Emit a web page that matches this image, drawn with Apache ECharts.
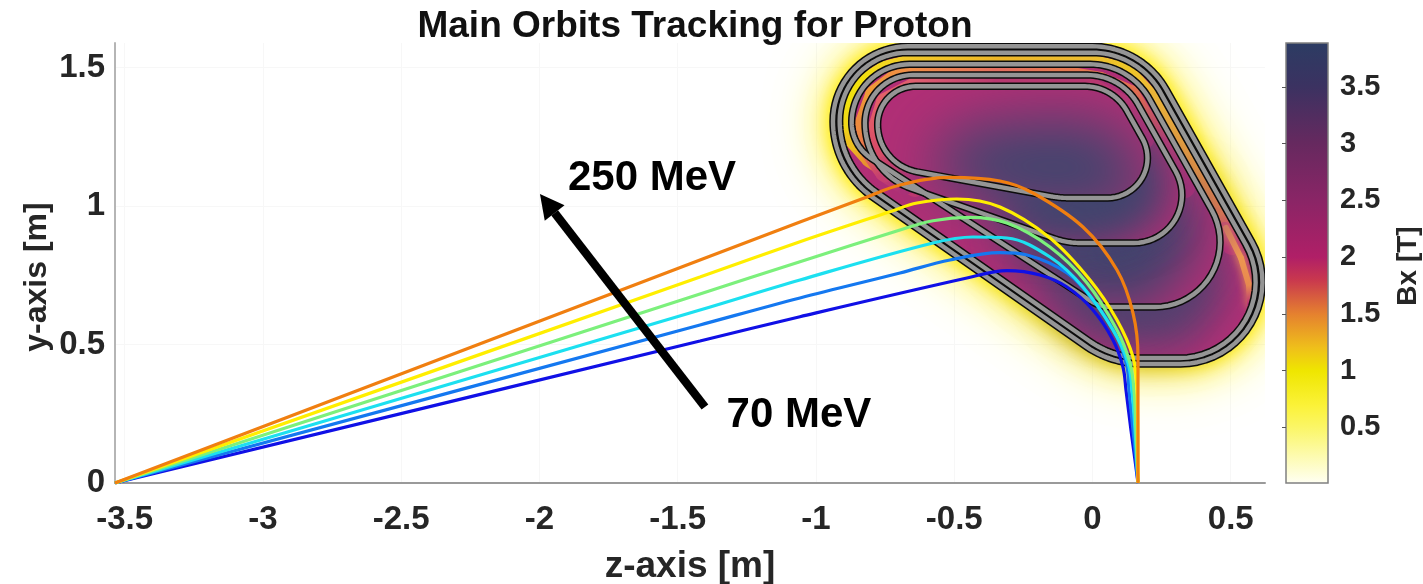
<!DOCTYPE html>
<html><head><meta charset="utf-8">
<style>html,body{margin:0;padding:0;background:#fff}#c{width:1423px;height:584px}</style>
<script src="https://cdn.jsdelivr.net/npm/echarts@6/dist/echarts.min.js"></script>
</head><body><div id="c"></div>
<script>
// ---------- axis / tick data ----------
const zTicks = [-3.5,-3,-2.5,-2,-1.5,-1,-0.5,0,0.5];
const yTicks = [0,0.5,1,1.5];
const barTicks = [0.5,1,1.5,2,2.5,3,3.5];
const zRange = [-3.535,0.6239], yRange = [0,1.5884], barRange = [0.01,3.886];

// ---------- orbits [z,y] ----------
const orbit70 = [[-3.535,0],[-1.4195,0.5126],[-1.0579,0.6004],[-0.4539,0.7401],[-0.3092,0.7664],[-0.1899,0.7509],[-0.0922,0.7076],[0.0018,0.6245],[0.0741,0.5162],[0.1103,0.4188],[0.1212,0.3357],[0.1392,0.1913],[0.1537,0.0830],[0.1646,0]];
const orbit100 = [[-3.535,0],[-1.4195,0.5704],[-1.0579,0.6679],[-0.6962,0.7581],[-0.5154,0.8051],[-0.3345,0.8314],[-0.2369,0.8231],[-0.0922,0.7581],[0.0018,0.6606],[0.0886,0.5271],[0.1248,0.4188],[0.1320,0.3357],[0.1465,0.1913],[0.1573,0.0830],[0.1646,0]];
const orbit130 = [[-3.535,0],[-1.4195,0.6245],[-1.0579,0.7329],[-0.5769,0.8664],[-0.4322,0.8881],[-0.3092,0.8845],[-0.1537,0.8159],[-0.0344,0.7076],[0.0741,0.5523],[0.1284,0.4332],[0.1429,0.3357],[0.1537,0.1913],[0.1646,0]];
const orbit170 = [[-3.535,0],[-1.4195,0.6823],[-1.0579,0.7989],[-0.6962,0.9134],[-0.5769,0.9469],[-0.4430,0.9592],[-0.3092,0.9386],[-0.1537,0.8520],[-0.0199,0.7220],[0.0886,0.5523],[0.1356,0.4332],[0.1501,0.3357],[0.1573,0.1913],[0.1646,0]];
const orbit210 = [[-3.535,0],[-1.4195,0.7437],[-1.0579,0.8711],[-0.7324,0.9794],[-0.6347,1.0108],[-0.4900,1.0253],[-0.3345,0.9964],[-0.1537,0.8845],[-0.0090,0.7329],[0.0886,0.5885],[0.1465,0.4549],[0.1609,0.3357],[0.1646,0]];
const orbit250 = [[-3.535,0],[-1.4195,0.8051],[-1.0579,0.9422],[-0.8155,1.0325],[-0.6962,1.0758],[-0.5154,1.1036],[-0.3345,1.0903],[-0.2152,1.0469],[-0.0344,0.9242],[0.0886,0.7690],[0.1465,0.6137],[0.1646,0.4549],[0.1646,0.3357],[0.1646,0]];
const orbits = [orbit70,orbit100,orbit130,orbit170,orbit210,orbit250];
const orbitColors = ['#1010e6','#1478f0','#1ce0f0','#7cf07c','#ffee00','#f07f10'];

// ---------- coils: corner vertices [z,y] ----------
const coilA = [[-0.9385,1.5765],[0.1790,1.5765],[0.8250,0.4296],[0.0669,0.4296],[-0.9385,1.1318]];
const coilB = [[-0.9143,1.5534],[0.1646,1.5534],[0.7848,0.4513],[0.0763,0.4513],[-0.9143,1.1430]];
const coilC = [[-0.8709,1.5115],[0.1356,1.5115],[0.6275,0.6354],[0.0271,0.6354],[-0.8709,1.2180]];
const coilD = [[-0.8228,1.4729],[0.1049,1.4729],[0.4467,0.8664],[-0.0922,0.8664],[-0.8228,1.1217]];
const coilE = [[-0.7769,1.4321],[0.0741,1.4321],[0.3020,1.0289],[-0.1175,1.0289],[-0.7769,1.1495]];
const coils = [coilA,coilB,coilC,coilD,coilE];
const coilCorners = [[75,85,82,100,92],[68,78,76,94,86],[58,68,65,40,43],[48,58,48,80,69],[38,48,40,100,48]];

// ---------- field read along the gaps between coils ----------
const gapBC = [[-0.6420,1.0686],[-0.7324,1.1282],[-0.8011,1.1733],[-0.8589,1.2383],[-0.8698,1.3032],[-0.8589,1.3827],[-0.8119,1.4477],[-0.7504,1.4874],[-0.6600,1.5115],[-0.3345,1.5115],[-0.0090,1.5115],[0.1175,1.4838],[0.2080,1.3863],[0.3526,1.1300],[0.4467,0.9603],[0.4792,0.9061],[0.5045,0.8592]];
const gapBCColors = ['#c83870','#dc6050','#e89030','#eec020','#f0d818','#f0e010','#f2e010','#f2d820','#f2c828','#f0b828','#f0c030','#f0c828','#f0b838','#ef9a40','#e87a50','#d04e70','#b83078'];
const gapTip = [[0.4830,0.9206],[0.5370,0.8123],[0.5660,0.7148],[0.5700,0.6426]];
const gapTipColors = ['#e08060','#f09850','#e88a50','#b83078'];
const gapCD = [[-0.6781,1.0758],[-0.7504,1.1228],[-0.8047,1.2022],[-0.8228,1.2996],[-0.7866,1.4007],[-0.7143,1.4549],[-0.6420,1.4729],[-0.3345,1.4729],[-0.1175,1.4729],[0.0271,1.4477],[0.1356,1.4007],[0.2513,1.2130],[0.3345,1.0650]];
const gapCDColors = ['#b03078','#c84070','#e87050','#ec8a3c','#ef9a38','#ef9040','#ef8d48','#e87060','#ec7a50','#e87850','#e87050','#c83c78','#a83078'];
const gapDE = [[-0.6347,1.1228],[-0.7143,1.1480],[-0.7685,1.2094],[-0.7757,1.2924],[-0.7504,1.3754],[-0.6420,1.4321],[-0.3345,1.4321],[-0.0090,1.4321],[0.1175,1.3646],[0.1899,1.2383]];
const gapDEColors = ['#b03078','#c04070','#d84c68','#e05868','#e26068','#e06070','#c03870','#c03870','#c03878','#b03078'];

// ---------- high-field cores ----------
const coreE = [[-0.3345,1.3032],[-0.0090,1.3177],[0.1356,1.2383],[0.2080,0.9856],[-0.2260,0.9675],[-0.5154,1.0578],[-0.5877,1.1661],[-0.5154,1.2563]];
const coreDE = [[-0.3345,1.0578],[-0.1175,1.0939],[0.1356,1.2744],[0.2622,1.1300],[0.2441,0.9675],[0.0633,0.8592],[-0.1537,0.8592],[-0.2984,0.9314]];
const coreCD = [[-0.3345,0.9314],[-0.1175,0.9675],[0.1356,1.0578],[0.3707,1.0578],[0.3888,0.8412],[0.2080,0.6245],[-0.0090,0.6245],[-0.1899,0.7329]];
const coreAB = [[-0.1899,0.7690],[0.0271,0.6967],[0.4611,0.8773],[0.4792,0.6606],[0.3526,0.4982],[0.1356,0.4801],[-0.0452,0.5523]];

// ---------- colour bar ----------
const barValues = [0.01,0.25,0.5,0.7,1,1.2,1.5,1.8,2,2.5,3,3.5,3.886];
const barColors = ['#fffff4','#fdfbb0','#fbf668','#fbf238','#efe600','#efc01a','#e5812f','#c9384e','#b01f67','#8a2566','#66295f','#3b3261','#2c3c63'];

// ---------- annotations ----------
const arrowZY = [[-1.4015,0.2744],[-1.9982,1.0433]];
const noteTexts = ['250 MeV','70 MeV'];
const notePos = [[-1.5931,1.1011],[-1.0615,0.2455]];

const font = '"Liberation Sans",Arial,sans-serif', ink = '#262626';

function rounded(api, verts, radii){
  const p = verts.map(v=>api.coord(v)), out=[], n=p.length;
  for(let i=0;i<n;i++){
    const a=p[(i+n-1)%n], b=p[i], c=p[(i+1)%n];
    let u=[a[0]-b[0],a[1]-b[1]], w=[c[0]-b[0],c[1]-b[1]];
    const lu=Math.hypot(u[0],u[1]), lw=Math.hypot(w[0],w[1]);
    u=[u[0]/lu,u[1]/lu]; w=[w[0]/lw,w[1]/lw];
    const ang=Math.acos(u[0]*w[0]+u[1]*w[1]), r=radii[i], t=r/Math.tan(ang/2);
    const bis=[u[0]+w[0],u[1]+w[1]], lb=Math.hypot(bis[0],bis[1]), d=r/Math.sin(ang/2);
    const ctr=[b[0]+bis[0]/lb*d,b[1]+bis[1]/lb*d];
    const s=[b[0]+u[0]*t,b[1]+u[1]*t], e=[b[0]+w[0]*t,b[1]+w[1]*t];
    let a0=Math.atan2(s[1]-ctr[1],s[0]-ctr[0]), a1=Math.atan2(e[1]-ctr[1],e[0]-ctr[0]), da=a1-a0;
    while(da>Math.PI)da-=2*Math.PI; while(da<-Math.PI)da+=2*Math.PI;
    for(let k=0;k<=20;k++){const q=a0+da*k/20; out.push([ctr[0]+r*Math.cos(q),ctr[1]+r*Math.sin(q)]);}
  }
  return out;
}
const poly=(points,style)=>({type:'polygon',shape:{points},style});
function strip(api,pts,cols,width,blur){
  const px=pts.map(v=>api.coord(v)), out=[];
  for(let i=0;i<px.length-1;i++){
    const a=px[i],b=px[i+1];
    const g={type:'linear',global:true,x:a[0],y:a[1],x2:b[0],y2:b[1],colorStops:[{offset:0,color:cols[i]},{offset:1,color:cols[i+1]}]};
    out.push({type:'line',shape:{x1:a[0],y1:a[1],x2:b[0],y2:b[1]},
      style:{stroke:g,lineWidth:width,lineCap:'round',fill:null,shadowBlur:blur||0,shadowColor:blur?cols[i]:'transparent'}});
  }
  return out;
}
const OFF=3000; // cast only the soft shadow of a core onto the plot
function renderField(params,api){
  const ch=[], R=i=>rounded(api,coils[i],coilCorners[i]);
  const base='#b22f76';
  const core=(c,col,blur)=>poly(c.map(v=>{const p=api.coord(v);return [p[0]-OFF,p[1]];}),
    {fill:col,shadowBlur:blur,shadowColor:col,shadowOffsetX:OFF});
  [[70,'#fff6a0'],[50,'#fff48a'],[30,'#ffee30'],[16,'#ffec00']].forEach(h=>{
    ch.push(poly(R(0),{fill:'#ffee00',stroke:'#ffee00',lineWidth:4,shadowBlur:h[0],shadowColor:h[1]}));
  });
  ch.push(poly(R(0),{fill:base}));
  ch.push(core(coreAB,'#5a4070',40));
  ch.push(...strip(api,gapBC,gapBCColors,20));
  ch.push(...strip(api,gapTip,gapTipColors,6,8));
  ch.push(poly(R(2),{fill:base}));
  ch.push(core(coreCD,'#45446e',50));
  ch.push(...strip(api,gapCD,gapCDColors,20));
  ch.push(poly(R(3),{fill:base}));
  ch.push(core(coreDE,'#45446e',40));
  ch.push(...strip(api,gapDE,gapDEColors,18));
  ch.push(poly(R(4),{fill:base}));
  ch.push(core(coreE,'#3f466e',60));
  for(let i=0;i<5;i++) ch.push(poly(R(i),{fill:null,stroke:'#0c0c0c',lineWidth:7.4,lineJoin:'round'}));
  for(let i=0;i<5;i++) ch.push(poly(R(i),{fill:null,stroke:'#959595',lineWidth:4.4,lineJoin:'round'}));
  return {type:'group',children:ch};
}
function renderNotes(params,api){
  const a=api.coord(arrowZY[0]), b=api.coord(arrowZY[1]);
  const dx=b[0]-a[0], dy=b[1]-a[1], l=Math.hypot(dx,dy), ux=dx/l, uy=dy/l, hl=24, hw=12.5;
  const bx=b[0]-ux*hl, by=b[1]-uy*hl;
  const ch=[
    {type:'line',shape:{x1:a[0],y1:a[1],x2:bx,y2:by},style:{stroke:'#000',lineWidth:8.5,fill:null}},
    {type:'polygon',shape:{points:[[b[0],b[1]],[bx-uy*hw,by+ux*hw],[bx+uy*hw,by-ux*hw]]},style:{fill:'#000'}}
  ];
  noteTexts.forEach((t,i)=>{const p=api.coord(notePos[i]);
    ch.push({type:'text',style:{text:t,x:p[0],y:p[1],align:'center',verticalAlign:'middle',fill:'#000',font:'bold 42px '+font}});});
  return {type:'group',children:ch};
}
function renderBar(params,api){
  const tl=api.coord([0,barRange[1]]), br=api.coord([1,barRange[0]]);
  const span=barRange[1]-barRange[0];
  const stops=barValues.map((v,i)=>({offset:(barRange[1]-v)/span,color:barColors[i]})).reverse();
  return {type:'rect',shape:{x:tl[0],y:tl[1],width:br[0]-tl[0],height:br[1]-tl[1]},
    style:{fill:{type:'linear',x:0,y:0,x2:0,y2:1,colorStops:stops},stroke:'#808080',lineWidth:1.5}};
}
const numLabel={fontFamily:font,fontWeight:'bold',color:ink};
const chart=echarts.init(document.getElementById('c'),null,{renderer:'canvas'});
chart.setOption({
  animation:false,backgroundColor:'#fff',
  title:{text:'Main Orbits Tracking for Proton',left:690,textAlign:'center',top:3,
    textStyle:{fontFamily:font,fontWeight:'bold',fontSize:37,color:'#111'}},
  grid:[{left:115,top:43,width:1150,height:440,outerBoundsMode:'none'},{left:1286,top:43,width:42,height:440,outerBoundsMode:'none'}],
  graphic:[
    {type:'text',x:37,y:277,rotation:Math.PI/2,style:{text:'y-axis [m]',align:'center',verticalAlign:'middle',fill:ink,font:'bold 32px '+font}},
    {type:'text',x:1408,y:266,rotation:Math.PI/2,style:{text:'Bx [T]',align:'center',verticalAlign:'middle',fill:ink,font:'bold 28px '+font}}
  ],
  xAxis:[
    {type:'value',gridIndex:0,min:zRange[0],max:zRange[1],name:'z-axis [m]',nameLocation:'middle',nameGap:65,
     nameTextStyle:{fontFamily:font,fontWeight:'bold',fontSize:37,color:ink},
     axisLine:{show:true,onZero:false,lineStyle:{color:'#9a9a9a',width:2}},
     axisTick:{show:false,customValues:zTicks},
     splitLine:{show:true,lineStyle:{color:'#f7f7f7',width:1}},
     axisLabel:Object.assign({customValues:zTicks,fontSize:33,margin:20,showMinLabel:true,showMaxLabel:true,hideOverlap:false},numLabel)},
    {type:'value',gridIndex:1,min:0,max:1,show:false}
  ],
  yAxis:[
    {type:'value',gridIndex:0,min:yRange[0],max:yRange[1],
     axisLine:{show:true,onZero:false,lineStyle:{color:'#b5b5b5',width:2}},
     axisTick:{show:false,customValues:yTicks},
     splitLine:{show:true,lineStyle:{color:'#f7f7f7',width:1}},
     axisLabel:Object.assign({customValues:yTicks,fontSize:33,margin:10,padding:[6,0,0,0]},numLabel)},
    {type:'value',gridIndex:1,position:'right',min:barRange[0],max:barRange[1],z:5,
     axisLine:{show:false},splitLine:{show:false},
     axisTick:{show:true,inside:true,length:4,customValues:barTicks,lineStyle:{color:'#555',width:1}},
     axisLabel:Object.assign({customValues:barTicks,fontSize:29,margin:12,padding:[3,0,0,0]},numLabel)}
  ],
  series:[
    {type:'custom',xAxisIndex:0,yAxisIndex:0,clip:true,z:1,silent:true,renderItem:renderField,data:[[0,0.5]]},
    ...orbits.map((d,i)=>({type:'line',xAxisIndex:0,yAxisIndex:0,data:d,z:3+i/10,showSymbol:false,symbol:'none',smooth:0.35,
      lineStyle:{color:orbitColors[i],width:3.2},silent:true})),
    {type:'custom',xAxisIndex:0,yAxisIndex:0,z:6,silent:true,renderItem:renderNotes,data:[[0,0.5]]},
    {type:'custom',xAxisIndex:1,yAxisIndex:1,z:1,silent:true,renderItem:renderBar,data:[[0.5,1]]}
  ]
});
</script></body></html>
